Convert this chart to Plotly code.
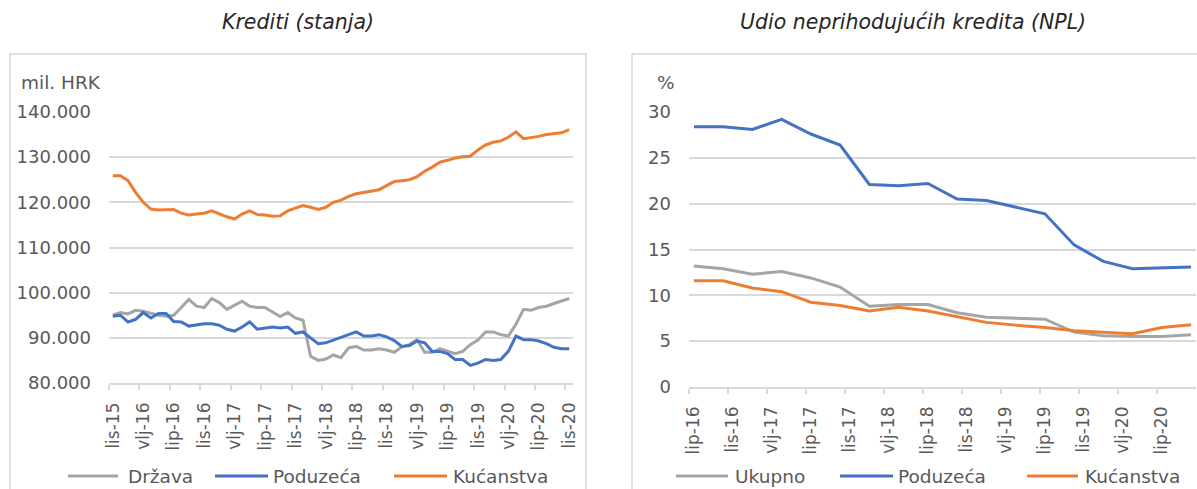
import plotly.graph_objects as go

# ---------------- data ----------------
# Left chart: monthly, lis-15 (Oct 2015) .. lis-20 (Oct 2020), mil. HRK
left_ticktext = ["lis-15", "vlj-16", "lip-16", "lis-16", "vlj-17", "lip-17", "lis-17",
                 "vlj-18", "lip-18", "lis-18", "vlj-19", "lip-19", "lis-19", "vlj-20",
                 "lip-20", "lis-20"]
drzava = [95.0, 95.6, 95.3, 96.1, 95.9, 95.4, 95.0, 94.8, 95.0, 96.7,
          98.5, 97.0, 96.7, 98.7, 97.8, 96.3, 97.2, 98.1, 97.0, 96.7,
          96.7, 95.7, 94.7, 95.6, 94.4, 93.9, 85.9, 85.0, 85.3, 86.2,
          85.6, 87.8, 88.1, 87.3, 87.3, 87.6, 87.3, 86.8, 88.0, 88.5,
          89.6, 86.8, 86.8, 87.6, 87.0, 86.5, 87.0, 88.5, 89.5, 91.3,
          91.3, 90.7, 90.4, 93.0, 96.3, 96.1, 96.7, 97.0, 97.6, 98.1, 98.7]
poduzeca_l = [94.8, 95.0, 93.5, 94.1, 95.6, 94.4, 95.4, 95.4, 93.6, 93.5,
              92.6, 92.8, 93.1, 93.1, 92.8, 91.9, 91.5, 92.4, 93.5, 91.9,
              92.1, 92.4, 92.2, 92.4, 91.0, 91.3, 90.0, 88.7, 88.9, 89.5,
              90.0, 90.7, 91.3, 90.4, 90.4, 90.7, 90.2, 89.4, 88.1, 88.3,
              89.3, 88.9, 87.0, 87.0, 86.5, 85.2, 85.2, 83.9, 84.4, 85.2,
              85.0, 85.2, 87.0, 90.4, 89.6, 89.6, 89.3, 88.7, 87.9, 87.6, 87.6]
kucanstva_l = [125.9, 125.9, 124.8, 122.2, 120.0, 118.5, 118.3, 118.3, 118.4, 117.6,
               117.2, 117.4, 117.6, 118.1, 117.4, 116.8, 116.3, 117.4, 118.1, 117.3,
               117.2, 116.9, 117.0, 118.1, 118.7, 119.3, 118.9, 118.4, 118.9, 120.0,
               120.5, 121.3, 121.9, 122.2, 122.4, 122.8, 123.7, 124.6, 124.8, 125.0,
               125.7, 126.9, 127.8, 128.9, 129.3, 129.8, 130.1, 130.2, 131.6, 132.7,
               133.3, 133.6, 134.4, 135.6, 134.1, 134.3, 134.6, 135.0, 135.2, 135.4, 136.1]

# Right chart: quarterly (lip-16 .. ruj-20), %
right_ticktext = ["lip-16", "lis-16", "vlj-17", "lip-17", "lis-17", "vlj-18", "lip-18",
                  "lis-18", "vlj-19", "lip-19", "lis-19", "vlj-20", "lip-20"]
ukupno = [13.2, 12.9, 12.3, 12.6, 11.9, 10.9, 8.8, 9.0, 9.0, 8.1,
          7.6, 7.5, 7.4, 6.0, 5.6, 5.5, 5.5, 5.7]
poduzeca_r = [28.4, 28.4, 28.1, 29.2, 27.6, 26.4, 22.1, 21.95, 22.2, 20.5,
              20.35, 19.6, 18.9, 15.5, 13.7, 12.9, 13.0, 13.1]
kucanstva_r = [11.6, 11.6, 10.8, 10.4, 9.25, 8.9, 8.3, 8.7, 8.3, 7.7,
               7.05, 6.75, 6.5, 6.15, 5.95, 5.8, 6.5, 6.8]

left_names = ["Država", "Poduzeća", "Kućanstva"]
right_names = ["Ukupno", "Poduzeća", "Kućanstva"]

# ---------------- positions derived from data ----------------
n_left = len(kucanstva_l)                 # monthly slots
x_left = [i + 0.5 for i in range(n_left)]
left_tickvals = [4 * k for k in range(len(left_ticktext))]

n_right_months = 3 * len(ukupno) - 2      # Jun 2016 .. Sep 2020 in months
x_right = [3 * k + 0.5 for k in range(len(ukupno))]
right_tickvals = [4 * k for k in range(len(right_ticktext))]

# ---------------- styling ----------------
GRAY = "#A5A5A5"
BLUE = "#4472C4"
ORANGE = "#ED7D31"
GRID = "#D9D9D9"
TXT = "#595959"
FONT = "DejaVu Sans"
W, H = 1197, 489
COLORS = [GRAY, BLUE, ORANGE]

fig = go.Figure()

lw = 3
for name, vals, col in zip(left_names, [drzava, poduzeca_l, kucanstva_l], COLORS):
    fig.add_trace(go.Scatter(x=x_left, y=[v * 1000 for v in vals], mode="lines", name=name,
                             line=dict(color=col, width=lw), xaxis="x", yaxis="y",
                             showlegend=False))

for name, vals, col in zip(right_names, [ukupno, poduzeca_r, kucanstva_r], COLORS):
    fig.add_trace(go.Scatter(x=x_right, y=vals, mode="lines", name=name,
                             line=dict(color=col, width=lw), xaxis="x2", yaxis="y2",
                             showlegend=False))

xcommon = dict(showgrid=False, zeroline=False, showline=True, linecolor=GRID, linewidth=1.5,
               ticks="outside", ticklen=5, tickcolor=GRID, tickwidth=1.5, tickangle=-90,
               tickfont=dict(family=FONT, size=17, color=TXT), ticklabelshift=4,
               ticklabelstandoff=6, fixedrange=True, automargin=False)
ycommon = dict(showgrid=True, gridcolor=GRID, gridwidth=1.5, zeroline=False, showline=False,
               ticks="", tickfont=dict(family=FONT, size=18, color=TXT), ticklabelstandoff=17,
               automargin=False)

fig.update_layout(
    width=W, height=H,
    margin=dict(l=0, r=0, t=0, b=0, autoexpand=False),
    paper_bgcolor="white", plot_bgcolor="white",
    separators=",.",
    showlegend=False,
    xaxis=dict(domain=[109 / W, 573 / W], range=[0, n_left], tickmode="array",
               tickvals=left_tickvals, ticktext=left_ticktext, anchor="y", **xcommon),
    yaxis=dict(domain=[(H - 383) / H, (H - 112) / H], range=[80000, 140000], dtick=10000,
               tickformat=",d", anchor="x", **ycommon),
    xaxis2=dict(domain=[689 / W, 1196 / W], range=[0, n_right_months], tickmode="array",
                tickvals=right_tickvals, ticktext=right_ticktext, anchor="y2", **xcommon),
    yaxis2=dict(domain=[(H - 387) / H, (H - 112) / H], range=[0, 30], dtick=5,
                anchor="x2", **ycommon),
)

# Chart frames
fig.add_shape(type="rect", xref="paper", yref="paper", x0=10 / W, x1=586 / W,
              y0=-0.05, y1=(H - 54) / H, line=dict(color=GRID, width=1.5), layer="below")
fig.add_shape(type="rect", xref="paper", yref="paper", x0=632 / W, x1=1.05,
              y0=-0.05, y1=(H - 54) / H, line=dict(color=GRID, width=1.5), layer="below")

# Legends (drawn as line samples + labels, Excel style)
LEG_Y = (H - 476) / H
left_leg = [(68, 118, 128), (215, 268, 273), (394, 447, 453)]
right_leg = [(676, 728, 735), (840, 893, 898), (1027, 1078, 1085)]
for names, pos in [(left_names, left_leg), (right_names, right_leg)]:
    for name, col, (xa, xb, xt) in zip(names, COLORS, pos):
        fig.add_shape(type="line", xref="paper", yref="paper", x0=xa / W, x1=xb / W,
                      y0=LEG_Y, y1=LEG_Y, line=dict(color=col, width=3))
        fig.add_annotation(text=name, xref="paper", yref="paper", x=xt / W, y=LEG_Y,
                           showarrow=False, xanchor="left", yanchor="middle", xshift=-2,
                           font=dict(family=FONT, size=18.5, color=TXT))

# Titles and unit labels
fig.add_annotation(text="<i>Krediti (stanja)</i>", xref="paper", yref="paper",
                   x=298 / W, y=(H - 22) / H, showarrow=False, xanchor="center", yanchor="middle",
                   font=dict(family=FONT, size=20.5, color="#262626"))
fig.add_annotation(text="<i>Udio neprihodujućih kredita (NPL)</i>", xref="paper", yref="paper",
                   x=913 / W, y=(H - 22) / H, showarrow=False, xanchor="center", yanchor="middle",
                   font=dict(family=FONT, size=20.5, color="#262626"))
fig.add_annotation(text="mil. HRK", xref="paper", yref="paper",
                   x=19 / W, y=(H - 82) / H, showarrow=False, xanchor="left", yanchor="middle",
                   font=dict(family=FONT, size=18.5, color=TXT))
fig.add_annotation(text="%", xref="paper", yref="paper",
                   x=655 / W, y=(H - 82) / H, showarrow=False, xanchor="left", yanchor="middle",
                   font=dict(family=FONT, size=18.5, color=TXT))

fig.write_html("out.html", config={"displayModeBar": False},
               post_script="document.body.style.margin='0px';document.body.style.overflow='hidden';")
